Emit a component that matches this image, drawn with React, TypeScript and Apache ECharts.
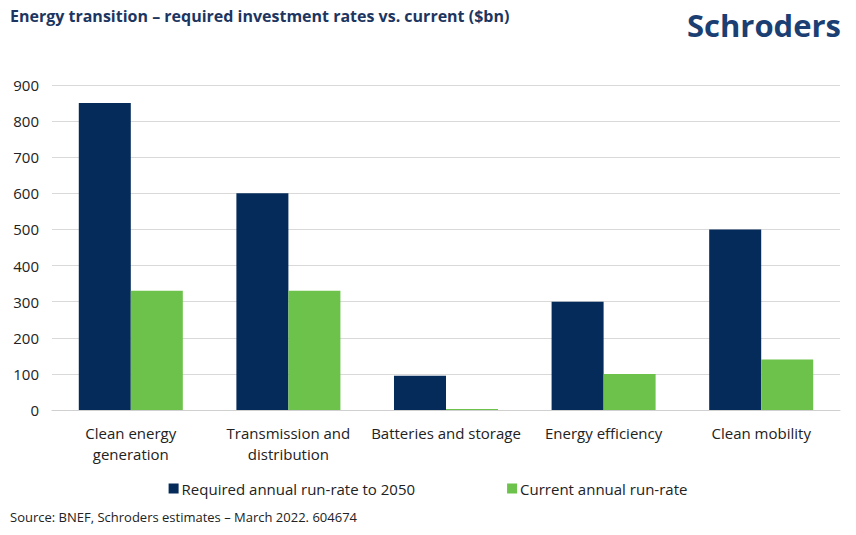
import React, { useEffect, useRef } from "react";
import * as echarts from "echarts";

const categories = [
  "Clean energy\ngeneration",
  "Transmission and\ndistribution",
  "Batteries and storage",
  "Energy efficiency",
  "Clean mobility",
];
const requiredRunRate = [850, 600, 95, 300, 500];
const currentRunRate = [330, 330, 3, 100, 140];
const seriesNames = ["Required annual run-rate to 2050", "Current annual run-rate"];
const titleText = "Energy transition – required investment rates vs. current ($bn)";
const sourceText = "Source: BNEF, Schroders estimates – March 2022. 604674";

const FONT = "'Open Sans', 'Noto Sans', sans-serif";

export default function App() {
  const ref = useRef<HTMLDivElement>(null);
  useEffect(() => {
    document.body.style.margin = "0";
    const chart = echarts.init(ref.current!, null, { renderer: "svg" });
    chart.setOption({
      animation: false,
      backgroundColor: "#ffffff",
      textStyle: { fontFamily: FONT },
      graphic: [
        {
          type: "text",
          left: 10,
          top: 8,
          style: { text: titleText, font: `bold 16px ${FONT}`, fill: "#1c3661" },
        },
        {
          type: "text",
          right: 15,
          top: 9,
          style: { text: "Schroders", font: `bold 31px ${FONT}`, fill: "#1b3f73" },
        },
        {
          type: "text",
          left: 10,
          top: 510,
          style: { text: sourceText, font: `13px ${FONT}`, fill: "#222222" },
        },
      ],
      legend: {
        data: seriesNames,
        top: 476,
        left: "center",
        itemWidth: 10,
        itemHeight: 10,
        itemGap: 92,
        icon: "rect",
        textStyle: { fontFamily: FONT, fontSize: 15, color: "#222222", padding: [0, 0, 0, -2] },
      },
      grid: { left: 52, right: 16, top: 85, bottom: 125 },
      xAxis: {
        type: "category",
        data: categories,
        axisTick: { show: false },
        axisLine: { lineStyle: { color: "#d0d0d0" } },
        axisLabel: {
          interval: 0,
          margin: 12,
          fontFamily: FONT,
          fontSize: 15,
          color: "#222222",
          lineHeight: 21,
        },
      },
      yAxis: {
        type: "value",
        min: 0,
        max: 900,
        interval: 100,
        axisLine: { show: false },
        axisTick: { show: false },
        splitLine: { lineStyle: { color: "#d9d9d9" } },
        axisLabel: { margin: 13, fontFamily: FONT, fontSize: 15, color: "#222222" },
      },
      series: [
        {
          name: seriesNames[0],
          type: "bar",
          data: requiredRunRate,
          barGap: "0%",
          barCategoryGap: "34%",
          itemStyle: { color: "#052b5b" },
        },
        {
          name: seriesNames[1],
          type: "bar",
          data: currentRunRate,
          barGap: "0%",
          barCategoryGap: "34%",
          itemStyle: { color: "#6cc24a" },
        },
      ],
    });
    return () => chart.dispose();
  }, []);
  return <div ref={ref} style={{ width: 856, height: 535 }} />;
}
